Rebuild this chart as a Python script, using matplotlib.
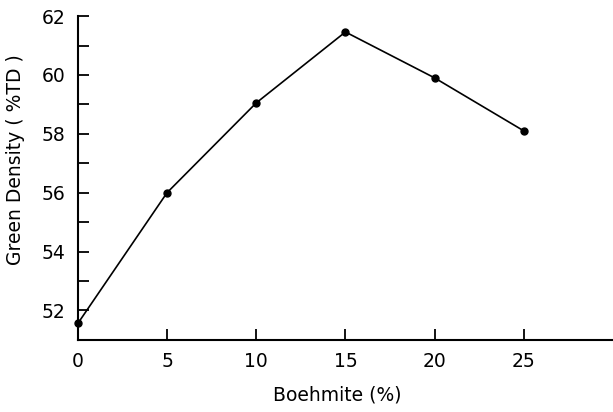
import matplotlib.pyplot as plt
import numpy as np

plt.rcParams['font.family'] = ['DejaVu Sans']

# boehmite addition vs. green density
boehmite = [0, 5, 10, 15, 20, 25]
density = [51.56, 56.0, 59.05, 61.46, 59.9, 58.1]

x_ticks = [0, 5, 10, 15, 20, 25]
y_ticks = [52, 54, 56, 58, 60, 62]
y_minor = [53, 55, 57, 59, 61]

FONT_SIZE = 13.5

fig = plt.figure(figsize=(6.13, 4.12), dpi=100)
ax = fig.add_axes([0.127, 0.175, 0.873, 0.786])

ax.plot(boehmite, density, '-o', color='black', lw=1.2, ms=5, clip_on=False)

ax.set_xlim(0, 30)
ax.set_ylim(51.0, 62)
ax.spines['top'].set_visible(False)
ax.spines['right'].set_visible(False)
for s in ('left', 'bottom'):
    ax.spines[s].set_linewidth(1.5)

ax.set_xticks(x_ticks)
ax.set_yticks(y_ticks)
ax.set_yticks(y_minor, minor=True)
ax.tick_params(direction='in', length=8, width=1.3, labelsize=FONT_SIZE, pad=9)
ax.tick_params(which='minor', direction='in', length=8, width=1.3)

ax.set_xlabel('Boehmite (%)', fontsize=FONT_SIZE)
ax.set_ylabel('Green Density ( %TD )', fontsize=FONT_SIZE)
ax.xaxis.set_label_coords(0.484, -0.14)
ax.yaxis.set_label_coords(-0.099, 0.556)

fig.savefig('out.png', dpi=100)
